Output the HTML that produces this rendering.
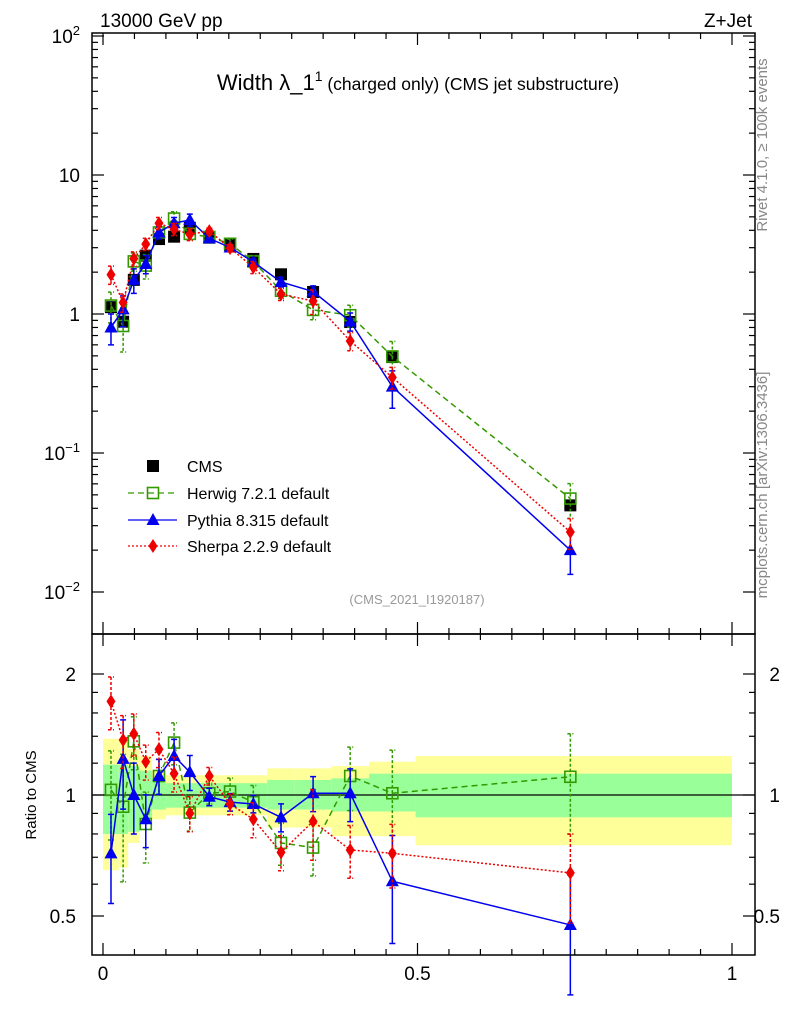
<!DOCTYPE html>
<html><head><meta charset="utf-8">
<style>
body{margin:0;background:#fff;}
svg{display:block;font-family:"Liberation Sans",sans-serif;}
</style></head>
<body>
<svg id="c" width="786" height="1024" viewBox="0 0 786 1024">
<g id="gBand"></g>
<g id="gMain"></g>
<g id="gRatio"></g>
<g id="gAxes"></g>
<text x="100" y="27" font-size="19">13000 GeV pp</text>
<text x="752" y="27" font-size="19" text-anchor="end">Z+Jet</text>
<text x="418" y="90" font-size="22" text-anchor="middle">Width λ_1<tspan dy="-9" font-size="14">1</tspan><tspan dy="9" font-size="17.5"> (charged only) (CMS jet substructure)</tspan></text>
<text x="417" y="604" font-size="13" fill="#999" text-anchor="middle">(CMS_2021_I1920187)</text>
<text transform="translate(767,145) rotate(-90)" font-size="15" fill="#888" text-anchor="middle">Rivet 4.1.0, ≥ 100k events</text>
<text transform="translate(767,485) rotate(-90)" font-size="15" fill="#888" text-anchor="middle">mcplots.cern.ch [arXiv:1306.3436]</text>
<text transform="translate(36,795) rotate(-90)" font-size="15" text-anchor="middle">Ratio to CMS</text>
<g id="gLeg"></g>
</svg>
<script>
const xCenters=[0.0127,0.032,0.049,0.068,0.089,0.113,0.138,0.169,0.202,0.239,0.283,0.334,0.393,0.460,0.743];
const binEdges=[0,0.025,0.04,0.058,0.078,0.1,0.125,0.15,0.187,0.217,0.261,0.305,0.363,0.423,0.497,1.0];
const cmsVals=[1.12,0.88,1.76,2.63,3.46,3.6,4.17,3.54,3.14,2.49,1.93,1.44,0.876,0.49,0.042];
const herwigVals=[1.15,0.82,2.39,2.23,3.86,4.86,3.77,3.58,3.2,2.39,1.47,1.07,0.98,0.495,0.047];
const pythiaVals=[0.80,1.08,1.76,2.29,3.86,4.5,4.75,3.5,3.01,2.37,1.70,1.45,0.885,0.30,0.020];
const sherpaVals=[1.92,1.21,2.50,3.18,4.5,4.07,3.75,3.95,2.98,2.17,1.39,1.24,0.64,0.35,0.027];
const herwigRatio=[1.03,0.935,1.36,0.847,1.115,1.35,0.904,1.01,1.02,0.96,0.76,0.74,1.115,1.01,1.11];
const pythiaRatio=[0.716,1.23,1.0,0.87,1.115,1.25,1.14,0.99,0.96,0.95,0.88,1.01,1.01,0.61,0.475];
const sherpaRatio=[1.71,1.37,1.42,1.21,1.30,1.13,0.90,1.115,0.95,0.87,0.72,0.86,0.73,0.716,0.64];
const herwigErr=[0.25,0.35,0.15,0.2,0.1,0.12,0.1,0.06,0.08,0.1,0.12,0.15,0.18,0.28,0.28];
const pythiaErr=[0.25,0.25,0.2,0.15,0.1,0.1,0.1,0.05,0.05,0.05,0.08,0.1,0.15,0.3,0.33];
const sherpaErr=[0.15,0.15,0.12,0.1,0.1,0.1,0.1,0.05,0.06,0.1,0.1,0.2,0.15,0.18,0.25];
const cmsErr=[0.05,0.05,0.04,0.03,0.03,0.03,0.03,0.03,0.03,0.03,0.03,0.04,0.05,0.06,0.08];
const yellowUp=[1.38,1.38,1.30,1.25,1.15,1.12,1.12,1.12,1.12,1.12,1.165,1.165,1.18,1.21,1.25];
const yellowLo=[0.65,0.66,0.76,0.85,0.87,0.89,0.89,0.89,0.89,0.89,0.83,0.83,0.79,0.79,0.75];
const greenUp=[1.19,1.19,1.18,1.15,1.10,1.07,1.07,1.07,1.07,1.07,1.09,1.09,1.10,1.13,1.13];
const greenLo=[0.80,0.80,0.81,0.88,0.92,0.93,0.93,0.93,0.93,0.93,0.92,0.92,0.91,0.91,0.88];
const mainTickVals=[0.01,0.1,1,10,100];
const ratioTickVals=[0.5,1,2];
const xTickVals=[0,0.5,1];

const NS="http://www.w3.org/2000/svg";
const L=92,R=755,T1=33,B1=634,B2=955;
const X=v=>103+v*629;
const Y=v=>314-139*Math.log10(v);
const YR=v=>795-121*Math.log2(v);
function mk(tag,parent,attrs){const e=document.createElementNS(NS,tag);for(const k in attrs)e.setAttribute(k,attrs[k]);parent.appendChild(e);return e;}
const gBand=document.getElementById('gBand'),gMain=document.getElementById('gMain'),gRatio=document.getElementById('gRatio'),gAxes=document.getElementById('gAxes'),gLeg=document.getElementById('gLeg');

for(let i=0;i<xCenters.length;i++){
  const x0=X(binEdges[i]),x1=X(binEdges[i+1]);
  const y=mk('rect',gBand,{x:x0,y:YR(yellowUp[i]),width:x1-x0,height:YR(yellowLo[i])-YR(yellowUp[i]),fill:'#ffff99'});
  
  
  const g=mk('rect',gBand,{x:x0,y:YR(greenUp[i]),width:x1-x0,height:YR(greenLo[i])-YR(greenUp[i]),fill:'#99ff99'});
  
  
}
const ref=mk('line',gBand,{x1:L,x2:R,y1:YR(1),y2:YR(1),stroke:'#000','stroke-width':1.2});



function marker(parent,type,x,y,color){
  let e;
  if(type==='sq') e=mk('rect',parent,{x:x-6,y:y-6,width:12,height:12,fill:'#000'});
  else if(type==='osq') e=mk('rect',parent,{x:x-5.5,y:y-5.5,width:11,height:11,fill:'none',stroke:color,'stroke-width':1.6});
  else if(type==='tri') e=mk('polygon',parent,{points:`${x},${y-7} ${x-6.5},${y+5} ${x+6.5},${y+5}`,fill:color});
  else e=mk('polygon',parent,{points:`${x},${y-7} ${x-4.5},${y} ${x},${y+7} ${x+4.5},${y}`,fill:color});
  return e;
}
const series=[
 {name:'herwig',vals:herwigVals,ratio:herwigRatio,err:herwigErr,color:'#339900',dash:'6,4',m:'osq'},
 {name:'pythia',vals:pythiaVals,ratio:pythiaRatio,err:pythiaErr,color:'#0000ee',dash:'',m:'tri'},
 {name:'sherpa',vals:sherpaVals,ratio:sherpaRatio,err:sherpaErr,color:'#ee0000',dash:'2,2',m:'dia'}
];
for(let i=0;i<xCenters.length;i++){
  const x=X(xCenters[i]);
  const eb=mk('line',gMain,{x1:x,x2:x,y1:Y(cmsVals[i]*(1+cmsErr[i])),y2:Y(cmsVals[i]*(1-cmsErr[i])),stroke:'#000','stroke-width':1.5});
  
  
  const m=marker(gMain,'sq',x,Y(cmsVals[i]));
  
  
}
series.forEach(s=>{
  [[gMain,s.vals,Y],[gRatio,s.ratio,YR]].forEach(([par,vals,YF])=>{
    const pts=xCenters.map((xc,i)=>X(xc)+','+YF(vals[i])).join(' ');
    const pl=mk('polyline',par,{points:pts,fill:'none',stroke:s.color,'stroke-width':1.5,'stroke-dasharray':s.dash});
    
    
    for(let i=0;i<xCenters.length;i++){
      const x=X(xCenters[i]);
      const y1=YF(vals[i]*(1+s.err[i])),y2=YF(vals[i]*(1-s.err[i]));
      const eb=mk('path',par,{d:`M${x},${y1}V${y2}M${x-3},${y1}H${x+3}M${x-3},${y2}H${x+3}`,stroke:s.color,'stroke-width':1.5,'stroke-dasharray':s.dash?'3,2':'',fill:'none'});
      
      
      const m=marker(par,s.m,x,YF(vals[i]),s.color);
      
      
    }
  });
});

const f1=mk('rect',gAxes,{x:L,y:T1,width:R-L,height:B1-T1,fill:'none',stroke:'#000','stroke-width':1.5});


const f2=mk('rect',gAxes,{x:L,y:B1,width:R-L,height:B2-B1,fill:'none',stroke:'#000','stroke-width':1.5});


function tick(x1,y1,x2,y2){const t=mk('line',gAxes,{x1,y1,x2,y2,stroke:'#000','stroke-width':1.2});}
mainTickVals.forEach(v=>{
  const y=Y(v);
  tick(L,y,L+12,y);tick(R,y,R-12,y);
  if(v<100) for(let k=2;k<10;k++){const yy=Y(v*k); if(yy>T1){tick(L,yy,L+6,yy);tick(R,yy,R-6,yy);}}
  const exp=Math.round(Math.log10(v));
  const t=mk('text',gAxes,{x:80,y:y+7,'font-size':19,'text-anchor':'end'});
  if(exp===0) t.textContent='1';
  else if(exp===1) t.textContent='10';
  else {t.textContent='10';const ts=mk('tspan',t,{dy:-8,'font-size':13});ts.textContent=exp<0?'−'+(-exp):String(exp);}
  
  
});
[0.6,0.7,0.8,0.9,1.2,1.4,1.6,1.8].forEach(v=>{const y=YR(v);tick(L,y,L+6,y);tick(R,y,R-6,y);});
ratioTickVals.forEach(v=>{
  const y=YR(v);
  tick(L,y,L+12,y);tick(R,y,R-12,y);
  const t=mk('text',gAxes,{x:76,y:y+7,'font-size':19,'text-anchor':'end'});t.textContent=String(v);
  
  
  const t2=mk('text',gAxes,{x:780,y:y+7,'font-size':19,'text-anchor':'end'});t2.textContent=String(v);
  
  
});
for(let k=0;k<=20;k++){const v=k/20,x=X(v);const big=k%10===0;
  tick(x,B2,x,B2-(big?12:6));tick(x,B1,x,B1-(big?12:6));tick(x,T1,x,T1+(big?12:6));tick(x,B1,x,B1+(big?12:6));}
xTickVals.forEach(v=>{
  const t=mk('text',gAxes,{x:X(v),y:980,'font-size':19,'text-anchor':'middle'});t.textContent=String(v);
  
  
});

const legNames=['CMS','Herwig 7.2.1 default','Pythia 8.315 default','Sherpa 2.2.9 default'];
const legY=[466,493,520,546];
legNames.forEach((n,i)=>{
  const y=legY[i];
  if(i>0){const s=series[i-1];
    const ln=mk('line',gLeg,{x1:128,x2:177,y1:y,y2:y,stroke:s.color,'stroke-width':1.3,'stroke-dasharray':s.dash});
    
    
    const m=marker(gLeg,s.m,153,y,s.color);
    
    
  } else {const m=marker(gLeg,'sq',153,y);
    
    }
  const t=mk('text',gLeg,{x:187,y:y+6,'font-size':16});t.textContent=n;
  
  
});
</script>
</body></html>
